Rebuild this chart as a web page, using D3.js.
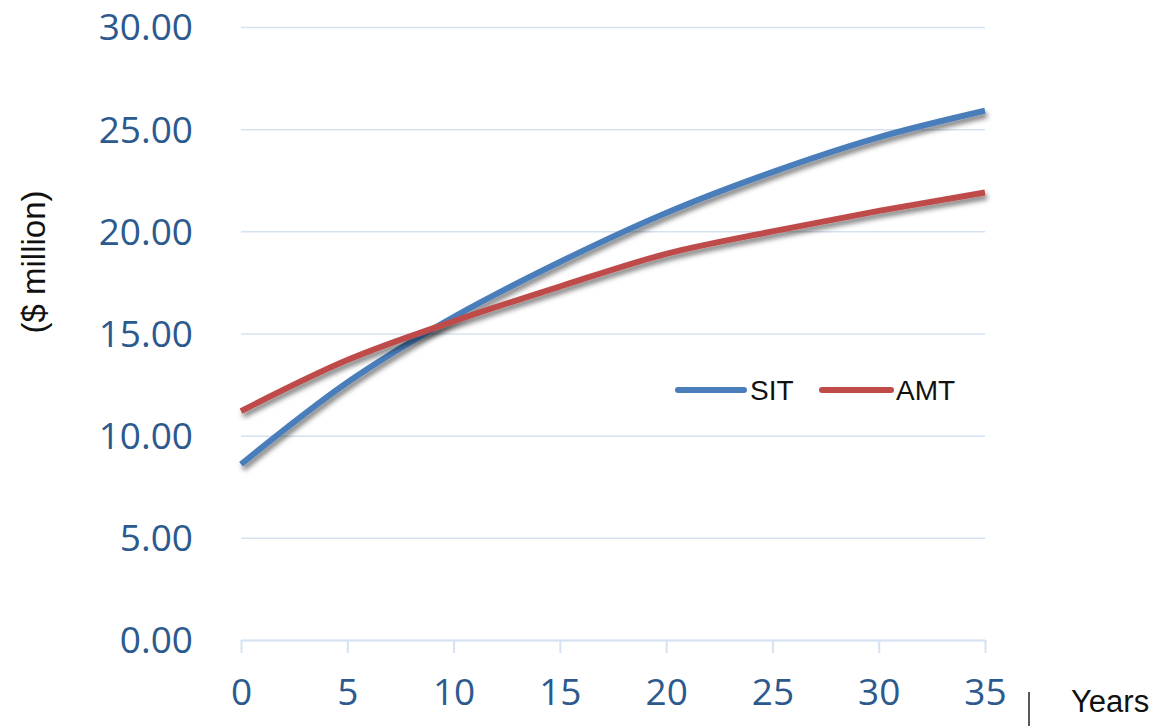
<!DOCTYPE html>
<html>
<head>
<meta charset="utf-8">
<script src="https://cdn.jsdelivr.net/npm/d3@7"></script>
<style>
  html, body { margin: 0; padding: 0; background: #fff; }
  svg { display: block; }
</style>
</head>
<body>
<svg id="chart" width="1157" height="726"></svg>
<script>
// Years on the horizontal axis
const years = [0, 5, 10, 15, 20, 25, 30, 35];
// Series values ($ million)
const sitValues = [8.6, 12.6, 15.8, 18.5, 20.9, 22.9, 24.6, 25.9];
const amtValues = [11.2, 13.7, 15.6, 17.3, 18.9, 20.0, 21.0, 21.9];
const seriesNames = ["SIT", "AMT"];
const seriesColors = ["#4A7EBB", "#BE4B48"];
// Axis ticks
const yTicks = [0, 5, 10, 15, 20, 25, 30];
const xTicks = [0, 5, 10, 15, 20, 25, 30, 35];
const yAxisTitle = "($ million)";
const xAxisTitle = "Years";

const svg = d3.select("#chart");
const margin = { left: 241, right: 172, top: 27, bottom: 86 };
const W = 1157, H = 726;

const x = d3.scaleLinear().domain([0, 35]).range([margin.left, W - margin.right]);
const y = d3.scaleLinear().domain([0, 30]).range([H - margin.bottom, margin.top]);

// Soft drop shadow under the series lines
const defs = svg.append("defs");
const f = defs.append("filter").attr("id", "shadow")
  .attr("x", "-10%").attr("y", "-10%").attr("width", "130%").attr("height", "140%");
f.append("feDropShadow").attr("dx", 2).attr("dy", 4).attr("stdDeviation", 2.8)
  .attr("flood-color", "#000").attr("flood-opacity", 0.5);

const labelColor = "#2C5A8E";
const gridColor = "#D6E2F2";

// Horizontal gridlines + y labels
const yAxis = d3.axisLeft(y).tickValues(yTicks).tickSize(-(x.range()[1] - x.range()[0]))
  .tickFormat(d3.format(".2f")).tickPadding(48);
const gy = svg.append("g").attr("transform", `translate(${margin.left},0)`).call(yAxis);
gy.select(".domain").remove();
gy.selectAll(".tick line").attr("stroke", gridColor).attr("stroke-width", 1.5);
gy.selectAll(".tick text")
  .attr("fill", labelColor)
  .attr("font-family", "'Open Sans', sans-serif")
  .attr("font-size", 37)
  .attr("dy", "0.35em");

// X axis
const xAxis = d3.axisBottom(x).tickValues(xTicks).tickSize(13).tickPadding(26).tickSizeOuter(0);
const gx = svg.append("g").attr("transform", `translate(0,${y(0)})`).call(xAxis);
gx.select(".domain").attr("stroke", gridColor).attr("stroke-width", 2);
gx.selectAll(".tick line").attr("stroke", gridColor).attr("stroke-width", 2);
gx.selectAll(".tick text")
  .attr("fill", labelColor)
  .attr("font-family", "'Open Sans', sans-serif")
  .attr("font-size", 37);

// Series lines
const line = d3.line().x((d, i) => x(years[i])).y(d => y(d)).curve(d3.curveMonotoneX);
[sitValues, amtValues].forEach((vals, k) => {
  svg.append("path")
    .datum(vals)
    .attr("d", line)
    .attr("fill", "none")
    .attr("stroke", seriesColors[k])
    .attr("stroke-width", 6)
    .attr("stroke-linejoin", "round")
    .attr("filter", "url(#shadow)");
});

// Legend
const legendItems = [
  { x0: 678, x1: 744, tx: 750 },
  { x0: 822, x1: 891, tx: 896 }
];
const legendY = 390;
legendItems.forEach((it, k) => {
  svg.append("line")
    .attr("x1", it.x0).attr("x2", it.x1).attr("y1", legendY).attr("y2", legendY)
    .attr("stroke", seriesColors[k]).attr("stroke-width", 6).attr("stroke-linecap", "round");
  svg.append("text")
    .attr("x", it.tx).attr("y", legendY).attr("dy", "0.36em")
    .attr("font-family", "'Liberation Sans', Arial, sans-serif")
    .attr("font-size", 28).attr("fill", "#111")
    .text(seriesNames[k]);
});

// Axis titles
svg.append("text")
  .attr("transform", `translate(45,262) rotate(-90)`)
  .attr("text-anchor", "middle")
  .attr("font-family", "'Liberation Sans', Arial, sans-serif")
  .attr("font-size", 33).attr("fill", "#111")
  .text(yAxisTitle);

svg.append("line")
  .attr("x1", 1029).attr("x2", 1029).attr("y1", 692).attr("y2", 726)
  .attr("stroke", "#222").attr("stroke-width", 1.5);

svg.append("text")
  .attr("x", 1071).attr("y", 712)
  .attr("font-family", "'Liberation Sans', Arial, sans-serif")
  .attr("font-size", 31).attr("fill", "#111")
  .text(xAxisTitle);
</script>
</body>
</html>
